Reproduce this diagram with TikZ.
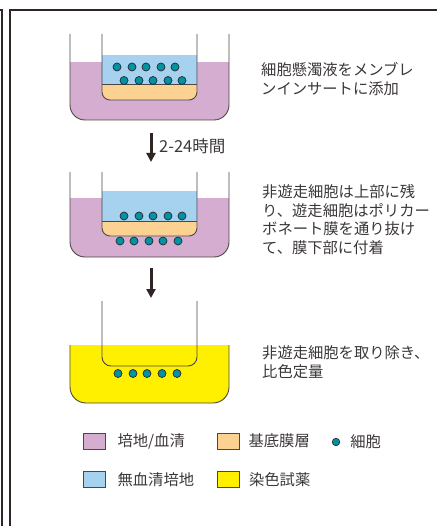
\documentclass[tikz,border=0pt]{standalone}
\usepackage{fontspec}
\setmainfont{Noto Sans CJK JP}
\usetikzlibrary{arrows.meta}
\usetikzlibrary{positioning}

\definecolor{medium}{RGB}{213,173,208}
\definecolor{freemed}{RGB}{166,210,240}
\definecolor{matrigel}{RGB}{251,210,145}
\definecolor{stain}{RGB}{255,240,0}
\definecolor{cellc}{RGB}{0,146,166}
\definecolor{inkc}{RGB}{45,38,36}
\definecolor{textc}{RGB}{60,55,55}

\begin{document}
\begin{tikzpicture}[
  x=1pt,y=-1pt,
  frame/.style={draw=inkc,line width=2pt},
  wall/.style={draw=inkc!85,line width=0.9pt},
  cell/.style={fill=cellc,draw=inkc,line width=0.7pt},
  flow/.style={draw=inkc,line width=3pt,-{Triangle[width=9pt,length=9pt]}},
  note/.style={anchor=west,align=left,inner sep=0pt,text=textc,font=\fontsize{15.3}{18.5}\selectfont},
  legbox/.style={draw=inkc!85,line width=0.8pt,minimum width=22pt,minimum height=16pt,inner sep=0pt},
  legtext/.style={inner sep=0pt,text=textc,font=\fontsize{15.3}{18}\selectfont}
]
\useasboundingbox (0,0) rectangle (436,526);

% frame
\draw[frame] (-2,10) -| (1.5,530);
\draw[frame] (10,530) |- (440,10);

% well 1: cells added to the insert
\begin{scope}
  \clip[rounded corners=15pt] (70,20) -- (70,120) -- (229,120) -- (229,20) -- cycle;
  \fill[medium] (60,62) rectangle (240,130);
\end{scope}
\begin{scope}
  \clip[rounded corners=8pt] (102,34) -- (102,100) -- (197,100) -- (197,34) -- cycle;
  \fill[white] (90,30) rectangle (210,110);
  \fill[freemed] (90,55) rectangle (210,84);
  \fill[matrigel] (90,84) rectangle (210,110);
\end{scope}
\draw[wall] (102,84) -- (197,84);
\draw[wall,rounded corners=8pt] (102,34) -- (102,100) -- (197,100) -- (197,34);
\draw[wall,rounded corners=15pt] (70,34) -- (70,120) -- (229,120) -- (229,34);
\foreach \x in {117,132,146,161,175}
  \filldraw[cell] (\x,67) circle (4pt);
\foreach \x in {124,139,153,168,182}
  \filldraw[cell] (\x,80.5) circle (4pt);

\coordinate (a1s) at (151,133);
\coordinate (a1e) at (151,162);
\draw[flow] (a1s) -- (a1e);
\node[note,font=\fontsize{16.5}{18}\selectfont] (time) at (159,146) {2-24時間};

% well 2: migration through the membrane
\begin{scope}
  \clip[rounded corners=15pt] (70,160) -- (70,257) -- (229,257) -- (229,160) -- cycle;
  \fill[medium] (60,198) rectangle (240,270);
\end{scope}
\begin{scope}
  \clip[rounded corners=8pt] (102,172) -- (102,236) -- (197,236) -- (197,172) -- cycle;
  \fill[white] (90,168) rectangle (210,245);
  \fill[freemed] (90,191) rectangle (210,221);
  \fill[matrigel] (90,221) rectangle (210,245);
\end{scope}
\draw[wall] (102,221) -- (197,221);
\draw[wall,rounded corners=8pt] (102,172) -- (102,236) -- (197,236) -- (197,172);
\draw[wall,rounded corners=15pt] (70,172) -- (70,257) -- (229,257) -- (229,172);
\foreach \x in {124,139,153,168,182}
  \filldraw[cell] (\x,216) circle (4pt);
\foreach \x in {120,134,149,163,178}
  \filldraw[cell] (\x,241) circle (4pt);

\coordinate (a2s) at (151,268);
\coordinate (a2e) at (151,298);
\draw[flow] (a2s) -- (a2e);

% well 3: staining
\fill[stain,rounded corners=16pt] (70,345) -- (70,403) -- (229,403) -- (229,345) -- cycle;
\fill[stain] (70,345) rectangle (229,370);
\draw[wall,rounded corners=16pt] (70,345) -- (70,403) -- (229,403) -- (229,345);
\draw[wall,rounded corners=9pt] (102,301) -- (102,366) -- (197,366) -- (197,301);
\foreach \x in {118,133,147,162,177}
  \filldraw[cell] (\x,373.5) circle (4pt);

% notes
\node[note] (step1) at (261,79) {細胞懸濁液をメンブレ\\ンインサートに添加};
\node[note] (step2) at (262,219.5) {非遊走細胞は上部に残\\り、遊走細胞はポリカー\\ボネート膜を通り抜け\\て、膜下部に付着};
\node[note] (step3) at (262,362) {非遊走細胞を取り除き、\\比色定量};

% legend
\node[legbox,fill=medium] (lg1) at (94,441) {};
\node[legtext,right=12pt of lg1] (lt1) {培地/血清};
\node[legbox,fill=matrigel] (lg2) at (228,441) {};
\node[legtext,right=9pt of lg2] (lt2) {基底膜層};
\node[cell,circle,minimum size=7.5pt,inner sep=0pt] (lg3) at (336,442) {};
\node[legtext,right=10pt of lg3] (lt3) {細胞};
\node[legbox,fill=freemed] (lg4) at (94,479.5) {};
\node[legtext,right=12pt of lg4] (lt4) {無血清培地};
\node[legbox,fill=stain] (lg5) at (228.5,479.5) {};
\node[legtext,right=9pt of lg5] (lt5) {染色試薬};
\end{tikzpicture}
\end{document}
